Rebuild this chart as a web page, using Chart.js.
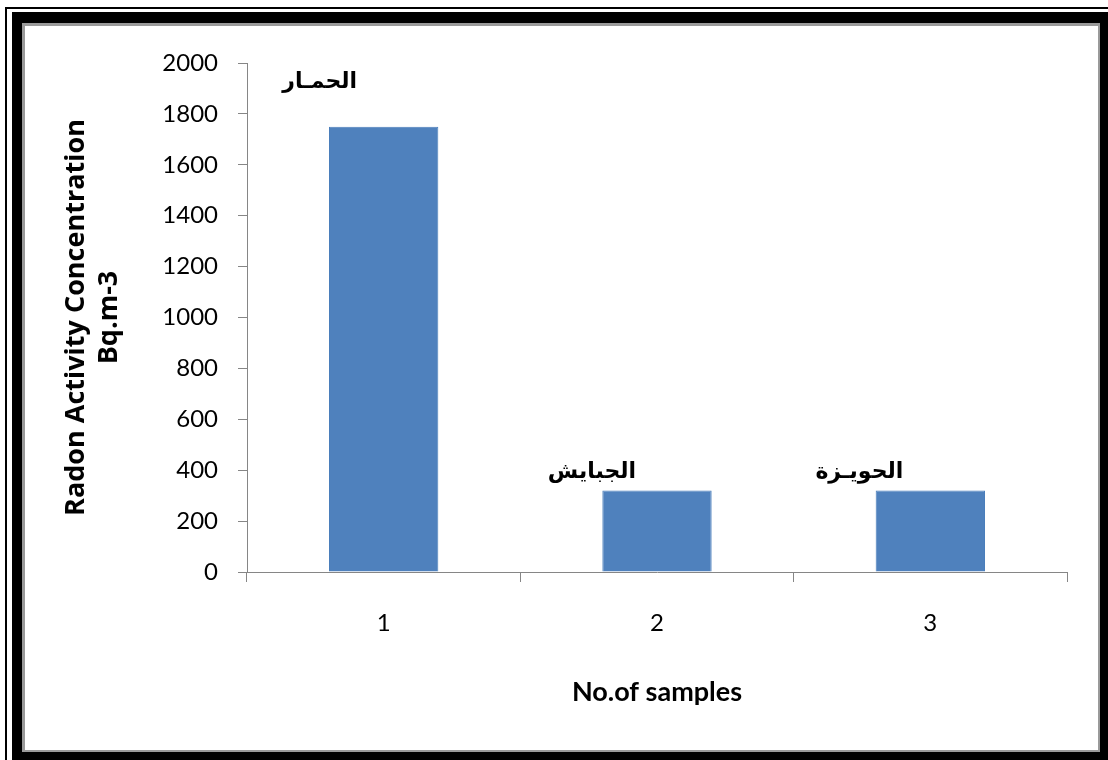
<!DOCTYPE html>
<html>
<head>
<meta charset="utf-8">
<script src="https://cdn.jsdelivr.net/npm/chart.js@4"></script>
<style>
  html, body { margin: 0; padding: 0; background: #fff; }
  #wrap { position: relative; width: 1108px; height: 760px; overflow: hidden; background: #fff; }
  .frame { position: absolute; box-sizing: border-box; }
  #thin { left: 5px; top: 7px; width: 1200px; height: 900px; border-left: 2px solid #000; border-top: 2px solid #000; }
  #thick { left: 12px; top: 12px; width: 1096px; height: 748px; background: #000; }
  #edge { left: 22px; top: 23px; width: 1078px; height: 729px; background: #9a9a9a; }
  #paper { left: 25px; top: 26px; width: 1073px; height: 724px; background: #fff; }
  canvas { position: absolute; left: 0; top: 0; }
</style>
</head>
<body>
<div id="wrap">
  <div class="frame" id="thin"></div>
  <div class="frame" id="thick"></div>
  <div class="frame" id="edge"></div>
  <div class="frame" id="paper"></div>
  <canvas id="chart" width="1108" height="760"></canvas>
</div>
<script>
// Sample numbers on the x axis
const sampleNumbers = ['1', '2', '3'];
// Radon activity concentration (Bq.m-3) per sample
const radonValues = [1750, 320, 320];
// Site name written above each sample
const siteNames = ['الحمـار', 'الجبايش', 'الحويـزة'];

const axisGray = '#868686';

// Writes the site names near the top of each bar
const siteNamePlugin = {
  id: 'siteNames',
  afterDatasetsDraw(chart, args, opts) {
    const ctx = chart.ctx;
    const bars = chart.getDatasetMeta(0).data;
    ctx.save();
    ctx.font = opts.font;
    ctx.fillStyle = '#000';
    ctx.textAlign = 'center';
    ctx.textBaseline = 'alphabetic';
    ctx.direction = 'rtl';
    bars.forEach((bar, i) => {
      const off = opts.offsets[i];
      ctx.fillText(siteNames[i], bar.x + off[0], bar.y + off[1]);
    });
    ctx.restore();
  }
};

new Chart(document.getElementById('chart'), {
  type: 'bar',
  data: {
    labels: sampleNumbers,
    datasets: [{
      data: radonValues,
      backgroundColor: '#4F81BD',
      borderColor: '#4A7EBB',
      borderWidth: 1,
      categoryPercentage: 1,
      barPercentage: 0.4
    }]
  },
  options: {
    responsive: false,
    animation: false,
    layout: { padding: { left: 0, top: 63, right: 41, bottom: 0 } },
    plugins: {
      legend: { display: false },
      tooltip: { enabled: false },
      siteNames: {
        font: 'bold 22px Arial, "Liberation Sans", "DejaVu Sans", sans-serif',
        offsets: [[-64, -39], [-65, -13], [-71, -13]]
      }
    },
    scales: {
      x: {
        afterFit(scale) { scale.height = 188; },
        grid: { display: true, drawOnChartArea: false, drawTicks: true, tickLength: 10, color: axisGray, offset: true },
        border: { display: true, color: axisGray, width: 1 },
        ticks: { color: '#000', padding: 27, font: { family: 'Lato', size: 24 } },
        title: {
          display: true,
          text: 'No.of samples',
          color: '#000',
          font: { family: 'Lato', size: 27, weight: 'bold', lineHeight: 1 },
          padding: { top: 0, bottom: 54 }
        }
      },
      y: {
        min: 0,
        max: 2000,
        afterFit(scale) { scale.width = 247; },
        grid: { display: true, drawOnChartArea: false, drawTicks: true, tickLength: 9, color: axisGray },
        border: { display: true, color: axisGray, width: 1 },
        ticks: {
          stepSize: 200,
          color: '#000',
          padding: 20,
          font: { family: 'Lato', size: 24 },
          callback: (value) => String(value)
        },
        title: {
          display: true,
          text: ['Radon Activity Concentration', 'Bq.m-3'],
          color: '#000',
          font: { family: 'Open Sans', size: 27, weight: 'bold', lineHeight: '33px' },
          padding: { top: 60, bottom: 0 }
        }
      }
    }
  },
  plugins: [siteNamePlugin]
});
</script>
</body>
</html>
